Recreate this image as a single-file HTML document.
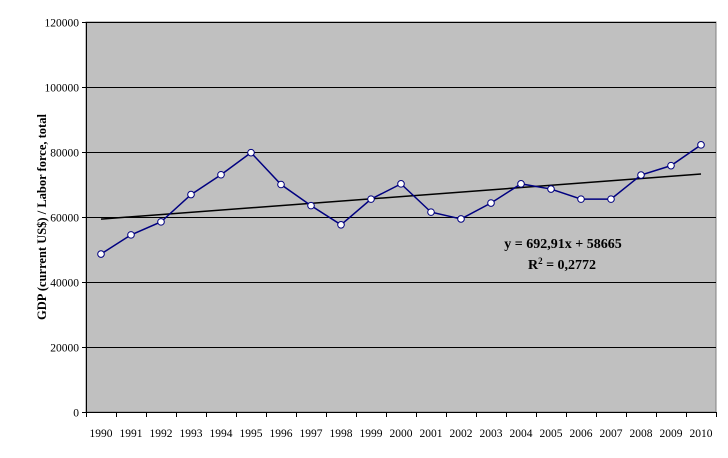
<!DOCTYPE html>
<html><head><meta charset="utf-8"><style>
body{margin:0;background:#fff;}
svg text{font-family:"Liberation Serif",serif;}
</style></head><body>
<svg width="728" height="453" xmlns="http://www.w3.org/2000/svg">
<g id="root"></g>
</svg>
<script>
const categories=["1990","1991","1992","1993","1994","1995","1996","1997","1998","1999","2000","2001","2002","2003","2004","2005","2006","2007","2008","2009","2010"];
const values=[48600,54500,58500,66900,73000,79800,70000,63500,57600,65500,70200,61500,59400,64300,70200,68600,65500,65500,72900,75800,82200];
const yTicks=[0,20000,40000,60000,80000,100000,120000];
const trendSlope=692.91;
const trendIntercept=58665;
const NS="http://www.w3.org/2000/svg";
const root=document.getElementById('root');
const L=86,R=716,T=22,B=412,yMax=120000;
const band=(R-L)/categories.length;
const xs=i=>L+band*(i+0.5);
const ys=v=>B-(v/yMax)*(B-T);
function mk(tag,attrs,parent){const e=document.createElementNS(NS,tag);for(const k in attrs)e.setAttribute(k,attrs[k]);(parent||root).appendChild(e);return e;}
let bg=mk('rect',{x:L,y:T,width:R-L,height:B-T,fill:'#c0c0c0',stroke:'#808080'});


yTicks.forEach(t=>{
  const y=Math.round(ys(t))+0.5;
  if(t>0){let g=mk('line',{x1:L,x2:R,y1:y,y2:y,stroke:'#000','stroke-width':1});
  
  }
  mk('line',{x1:L-4,x2:L,y1:y,y2:y,stroke:'#000'});
  let tx=mk('text',{x:L-7,y:y+4,'text-anchor':'end','font-size':11.5});
  tx.textContent=t;
  
  
});
mk('line',{x1:L+0.5,x2:L+0.5,y1:T,y2:B,stroke:'#000'});
mk('line',{x1:L,x2:R,y1:B+0.5,y2:B+0.5,stroke:'#000'});
categories.forEach((c,i)=>{
  const x=Math.round(L+band*i)+0.5;
  mk('line',{x1:x,x2:x,y1:B,y2:B+5,stroke:'#000'});
  let tx=mk('text',{x:xs(i),y:437,'text-anchor':'middle','font-size':11.5});
  tx.textContent=c;
  
  
});
mk('line',{x1:R+0.5,x2:R+0.5,y1:B,y2:B+5,stroke:'#000'});
const n=categories.length;
let tl=mk('line',{x1:xs(0),y1:ys(trendIntercept+trendSlope*1),x2:xs(n-1),y2:ys(trendIntercept+trendSlope*n),stroke:'#000','stroke-width':1.5});


let pl=mk('polyline',{points:values.map((v,i)=>xs(i)+','+ys(v)).join(' '),fill:'none',stroke:'#000080','stroke-width':1.5});


values.forEach((v,i)=>{
  let c=mk('circle',{cx:xs(i),cy:ys(v),r:3.3,fill:'#fff',stroke:'#000080','stroke-width':1});
  
  
});
let eq=mk('text',{x:563,y:248,'text-anchor':'middle','font-size':14,'font-weight':'bold'});
eq.textContent='y = 692,91x + 58665';


let r2=mk('text',{x:562,y:269,'text-anchor':'middle','font-size':14,'font-weight':'bold'});
r2.innerHTML='R<tspan dy="-5" font-size="9">2</tspan><tspan dy="5"> = 0,2772</tspan>';


let yt=mk('text',{transform:'translate(46,217) rotate(-90)','text-anchor':'middle','font-size':12.5,'font-weight':'bold'});
yt.textContent='GDP (current US$) / Labor force, total';


</script>
</body></html>
